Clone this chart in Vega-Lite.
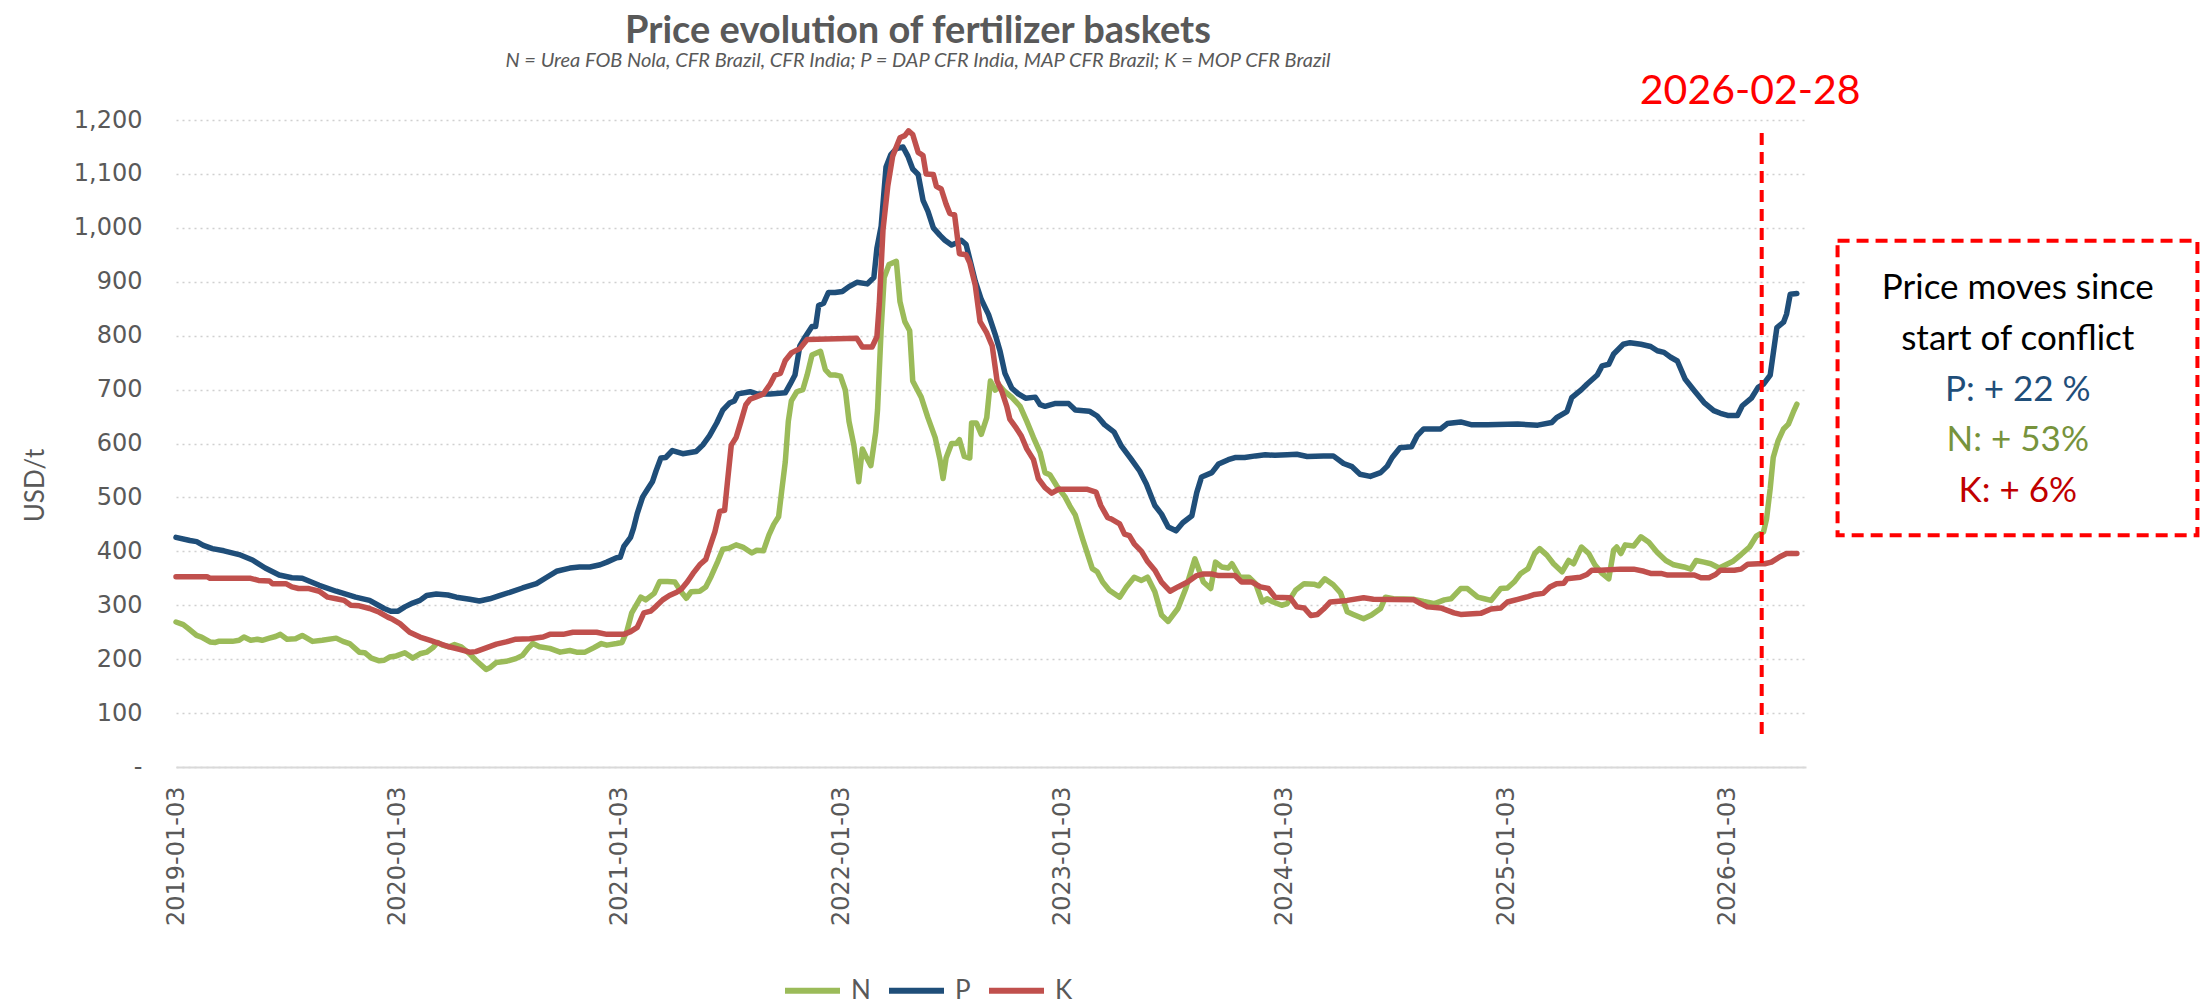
{
  "$schema": "https://vega.github.io/schema/vega-lite/v6.json",
  "width": 1630,
  "height": 647,
  "autosize": {"type": "none"},
  "padding": {"left": 176, "top": 120, "right": 402, "bottom": 238},
  "background": "white",
  "config": {"view": {"stroke": null}, "font": "Lato"},
  "title": {
    "text": "Price evolution of fertilizer baskets",
    "subtitle": "N = Urea FOB Nola, CFR Brazil, CFR India; P = DAP CFR India, MAP CFR Brazil; K = MOP CFR Brazil",
    "anchor": "middle",
    "frame": "group",
    "dx": -73,
    "offset": 0,
    "font": "Lato",
    "fontSize": 38,
    "fontWeight": "bold",
    "color": "#595959",
    "subtitleFont": "Lato",
    "subtitleFontSize": 20,
    "subtitleFontStyle": "italic",
    "subtitleColor": "#595959",
    "subtitlePadding": 0
  },
  "datasets": {
    "series": [
{"s":"N","d":"2019-01-03","v":269},{"s":"N","d":"2019-01-15","v":264},{"s":"N","d":"2019-01-23","v":257},{"s":"N","d":"2019-02-06","v":244},{"s":"N","d":"2019-02-14","v":241},{"s":"N","d":"2019-02-28","v":232},{"s":"N","d":"2019-03-09","v":231},{"s":"N","d":"2019-03-14","v":233},{"s":"N","d":"2019-04-06","v":233},{"s":"N","d":"2019-04-17","v":235},{"s":"N","d":"2019-04-25","v":241},{"s":"N","d":"2019-05-06","v":235},{"s":"N","d":"2019-05-17","v":237},{"s":"N","d":"2019-05-25","v":235},{"s":"N","d":"2019-06-06","v":239},{"s":"N","d":"2019-06-16","v":242},{"s":"N","d":"2019-06-24","v":246},{"s":"N","d":"2019-07-05","v":237},{"s":"N","d":"2019-07-19","v":238},{"s":"N","d":"2019-07-30","v":244},{"s":"N","d":"2019-08-16","v":233},{"s":"N","d":"2019-09-01","v":235},{"s":"N","d":"2019-09-24","v":239},{"s":"N","d":"2019-10-05","v":233},{"s":"N","d":"2019-10-16","v":229},{"s":"N","d":"2019-11-01","v":213},{"s":"N","d":"2019-11-10","v":212},{"s":"N","d":"2019-11-21","v":202},{"s":"N","d":"2019-12-04","v":197},{"s":"N","d":"2019-12-12","v":198},{"s":"N","d":"2019-12-21","v":204},{"s":"N","d":"2020-01-01","v":206},{"s":"N","d":"2020-01-15","v":212},{"s":"N","d":"2020-01-28","v":202},{"s":"N","d":"2020-02-09","v":210},{"s":"N","d":"2020-02-20","v":213},{"s":"N","d":"2020-03-01","v":221},{"s":"N","d":"2020-03-09","v":231},{"s":"N","d":"2020-03-17","v":226},{"s":"N","d":"2020-03-28","v":223},{"s":"N","d":"2020-04-06","v":227},{"s":"N","d":"2020-04-17","v":223},{"s":"N","d":"2020-05-01","v":210},{"s":"N","d":"2020-05-11","v":198},{"s":"N","d":"2020-05-28","v":181},{"s":"N","d":"2020-06-03","v":184},{"s":"N","d":"2020-06-14","v":194},{"s":"N","d":"2020-06-30","v":196},{"s":"N","d":"2020-07-16","v":201},{"s":"N","d":"2020-07-27","v":207},{"s":"N","d":"2020-08-05","v":220},{"s":"N","d":"2020-08-13","v":229},{"s":"N","d":"2020-08-24","v":223},{"s":"N","d":"2020-09-10","v":220},{"s":"N","d":"2020-09-27","v":213},{"s":"N","d":"2020-10-13","v":216},{"s":"N","d":"2020-10-24","v":213},{"s":"N","d":"2020-11-07","v":213},{"s":"N","d":"2020-11-21","v":221},{"s":"N","d":"2020-12-04","v":229},{"s":"N","d":"2020-12-13","v":226},{"s":"N","d":"2020-12-29","v":229},{"s":"N","d":"2021-01-07","v":231},{"s":"N","d":"2021-01-15","v":252},{"s":"N","d":"2021-01-23","v":286},{"s":"N","d":"2021-02-07","v":315},{"s":"N","d":"2021-02-15","v":310},{"s":"N","d":"2021-03-01","v":322},{"s":"N","d":"2021-03-10","v":344},{"s":"N","d":"2021-03-23","v":344},{"s":"N","d":"2021-04-04","v":343},{"s":"N","d":"2021-04-15","v":324},{"s":"N","d":"2021-04-23","v":313},{"s":"N","d":"2021-05-01","v":325},{"s":"N","d":"2021-05-15","v":326},{"s":"N","d":"2021-05-25","v":334},{"s":"N","d":"2021-06-03","v":354},{"s":"N","d":"2021-06-14","v":382},{"s":"N","d":"2021-06-22","v":404},{"s":"N","d":"2021-07-03","v":406},{"s":"N","d":"2021-07-14","v":412},{"s":"N","d":"2021-07-25","v":408},{"s":"N","d":"2021-08-09","v":397},{"s":"N","d":"2021-08-17","v":402},{"s":"N","d":"2021-08-28","v":401},{"s":"N","d":"2021-09-06","v":430},{"s":"N","d":"2021-09-14","v":450},{"s":"N","d":"2021-09-22","v":464},{"s":"N","d":"2021-09-27","v":511},{"s":"N","d":"2021-10-03","v":566},{"s":"N","d":"2021-10-08","v":641},{"s":"N","d":"2021-10-13","v":679},{"s":"N","d":"2021-10-22","v":696},{"s":"N","d":"2021-11-01","v":700},{"s":"N","d":"2021-11-08","v":727},{"s":"N","d":"2021-11-16","v":764},{"s":"N","d":"2021-11-30","v":771},{"s":"N","d":"2021-12-08","v":737},{"s":"N","d":"2021-12-16","v":727},{"s":"N","d":"2021-12-24","v":727},{"s":"N","d":"2022-01-02","v":725},{"s":"N","d":"2022-01-10","v":699},{"s":"N","d":"2022-01-16","v":641},{"s":"N","d":"2022-01-24","v":597},{"s":"N","d":"2022-02-01","v":529},{"s":"N","d":"2022-02-07","v":590},{"s":"N","d":"2022-02-13","v":576},{"s":"N","d":"2022-02-21","v":559},{"s":"N","d":"2022-03-01","v":621},{"s":"N","d":"2022-03-04","v":662},{"s":"N","d":"2022-03-10","v":812},{"s":"N","d":"2022-03-15","v":908},{"s":"N","d":"2022-03-23","v":932},{"s":"N","d":"2022-04-04","v":938},{"s":"N","d":"2022-04-10","v":863},{"s":"N","d":"2022-04-18","v":826},{"s":"N","d":"2022-04-26","v":809},{"s":"N","d":"2022-05-01","v":716},{"s":"N","d":"2022-05-07","v":703},{"s":"N","d":"2022-05-15","v":686},{"s":"N","d":"2022-05-26","v":648},{"s":"N","d":"2022-06-07","v":611},{"s":"N","d":"2022-06-15","v":570},{"s":"N","d":"2022-06-20","v":535},{"s":"N","d":"2022-06-25","v":573},{"s":"N","d":"2022-07-04","v":600},{"s":"N","d":"2022-07-12","v":600},{"s":"N","d":"2022-07-17","v":607},{"s":"N","d":"2022-07-25","v":576},{"s":"N","d":"2022-08-03","v":573},{"s":"N","d":"2022-08-06","v":638},{"s":"N","d":"2022-08-14","v":638},{"s":"N","d":"2022-08-22","v":617},{"s":"N","d":"2022-08-31","v":648},{"s":"N","d":"2022-09-06","v":716},{"s":"N","d":"2022-09-14","v":699},{"s":"N","d":"2022-09-22","v":706},{"s":"N","d":"2022-09-30","v":696},{"s":"N","d":"2022-10-11","v":686},{"s":"N","d":"2022-10-25","v":669},{"s":"N","d":"2022-11-05","v":641},{"s":"N","d":"2022-11-16","v":611},{"s":"N","d":"2022-11-27","v":583},{"s":"N","d":"2022-12-05","v":546},{"s":"N","d":"2022-12-13","v":542},{"s":"N","d":"2022-12-24","v":522},{"s":"N","d":"2023-01-07","v":501},{"s":"N","d":"2023-01-15","v":484},{"s":"N","d":"2023-01-24","v":467},{"s":"N","d":"2023-02-05","v":423},{"s":"N","d":"2023-02-21","v":368},{"s":"N","d":"2023-03-01","v":362},{"s":"N","d":"2023-03-10","v":343},{"s":"N","d":"2023-03-21","v":328},{"s":"N","d":"2023-04-07","v":315},{"s":"N","d":"2023-04-18","v":334},{"s":"N","d":"2023-05-01","v":352},{"s":"N","d":"2023-05-13","v":346},{"s":"N","d":"2023-05-23","v":352},{"s":"N","d":"2023-06-04","v":325},{"s":"N","d":"2023-06-15","v":282},{"s":"N","d":"2023-06-26","v":270},{"s":"N","d":"2023-07-12","v":294},{"s":"N","d":"2023-07-25","v":331},{"s":"N","d":"2023-08-09","v":386},{"s":"N","d":"2023-08-23","v":343},{"s":"N","d":"2023-09-04","v":331},{"s":"N","d":"2023-09-12","v":380},{"s":"N","d":"2023-09-22","v":371},{"s":"N","d":"2023-10-03","v":369},{"s":"N","d":"2023-10-09","v":377},{"s":"N","d":"2023-10-22","v":352},{"s":"N","d":"2023-11-06","v":352},{"s":"N","d":"2023-11-17","v":340},{"s":"N","d":"2023-11-28","v":306},{"s":"N","d":"2023-12-06","v":312},{"s":"N","d":"2023-12-16","v":306},{"s":"N","d":"2023-12-30","v":300},{"s":"N","d":"2024-01-08","v":303},{"s":"N","d":"2024-01-22","v":328},{"s":"N","d":"2024-02-05","v":340},{"s":"N","d":"2024-02-21","v":339},{"s":"N","d":"2024-02-29","v":336},{"s":"N","d":"2024-03-10","v":349},{"s":"N","d":"2024-03-24","v":338},{"s":"N","d":"2024-04-05","v":323},{"s":"N","d":"2024-04-16","v":288},{"s":"N","d":"2024-04-26","v":283},{"s":"N","d":"2024-05-13","v":275},{"s":"N","d":"2024-05-26","v":282},{"s":"N","d":"2024-06-10","v":294},{"s":"N","d":"2024-06-18","v":315},{"s":"N","d":"2024-07-01","v":312},{"s":"N","d":"2024-08-04","v":311},{"s":"N","d":"2024-08-20","v":307},{"s":"N","d":"2024-09-07","v":303},{"s":"N","d":"2024-09-23","v":310},{"s":"N","d":"2024-10-04","v":312},{"s":"N","d":"2024-10-20","v":331},{"s":"N","d":"2024-10-31","v":331},{"s":"N","d":"2024-11-17","v":315},{"s":"N","d":"2024-11-28","v":312},{"s":"N","d":"2024-12-09","v":309},{"s":"N","d":"2024-12-25","v":331},{"s":"N","d":"2025-01-05","v":332},{"s":"N","d":"2025-01-16","v":343},{"s":"N","d":"2025-01-27","v":359},{"s":"N","d":"2025-02-08","v":368},{"s":"N","d":"2025-02-19","v":396},{"s":"N","d":"2025-02-27","v":405},{"s":"N","d":"2025-03-11","v":393},{"s":"N","d":"2025-03-22","v":377},{"s":"N","d":"2025-04-05","v":362},{"s":"N","d":"2025-04-16","v":383},{"s":"N","d":"2025-04-24","v":377},{"s":"N","d":"2025-05-07","v":408},{"s":"N","d":"2025-05-19","v":396},{"s":"N","d":"2025-05-29","v":375},{"s":"N","d":"2025-06-10","v":359},{"s":"N","d":"2025-06-21","v":349},{"s":"N","d":"2025-06-29","v":402},{"s":"N","d":"2025-07-04","v":408},{"s":"N","d":"2025-07-11","v":396},{"s":"N","d":"2025-07-18","v":412},{"s":"N","d":"2025-08-01","v":410},{"s":"N","d":"2025-08-13","v":427},{"s":"N","d":"2025-08-26","v":417},{"s":"N","d":"2025-09-09","v":398},{"s":"N","d":"2025-09-23","v":383},{"s":"N","d":"2025-10-06","v":375},{"s":"N","d":"2025-10-23","v":371},{"s":"N","d":"2025-11-03","v":367},{"s":"N","d":"2025-11-12","v":383},{"s":"N","d":"2025-11-25","v":380},{"s":"N","d":"2025-12-06","v":377},{"s":"N","d":"2025-12-20","v":369},{"s":"N","d":"2025-12-31","v":375},{"s":"N","d":"2026-01-11","v":381},{"s":"N","d":"2026-01-25","v":394},{"s":"N","d":"2026-02-08","v":408},{"s":"N","d":"2026-02-19","v":428},{"s":"N","d":"2026-03-03","v":436},{"s":"N","d":"2026-03-08","v":460},{"s":"N","d":"2026-03-14","v":516},{"s":"N","d":"2026-03-19","v":574},{"s":"N","d":"2026-03-27","v":605},{"s":"N","d":"2026-04-05","v":627},{"s":"N","d":"2026-04-13","v":636},{"s":"N","d":"2026-04-21","v":658},{"s":"N","d":"2026-04-27","v":673},
{"s":"P","d":"2019-01-03","v":426},{"s":"P","d":"2019-01-26","v":420},{"s":"P","d":"2019-02-06","v":418},{"s":"P","d":"2019-02-17","v":411},{"s":"P","d":"2019-03-04","v":405},{"s":"P","d":"2019-03-23","v":401},{"s":"P","d":"2019-04-17","v":394},{"s":"P","d":"2019-05-09","v":384},{"s":"P","d":"2019-05-30","v":369},{"s":"P","d":"2019-06-22","v":356},{"s":"P","d":"2019-07-13","v":351},{"s":"P","d":"2019-07-30","v":350},{"s":"P","d":"2019-08-27","v":337},{"s":"P","d":"2019-09-24","v":326},{"s":"P","d":"2019-10-26","v":315},{"s":"P","d":"2019-11-18","v":309},{"s":"P","d":"2019-12-12","v":294},{"s":"P","d":"2019-12-23","v":289},{"s":"P","d":"2020-01-04","v":289},{"s":"P","d":"2020-01-15","v":297},{"s":"P","d":"2020-01-28","v":304},{"s":"P","d":"2020-02-09","v":309},{"s":"P","d":"2020-02-20","v":318},{"s":"P","d":"2020-03-07","v":321},{"s":"P","d":"2020-03-26","v":319},{"s":"P","d":"2020-04-09","v":315},{"s":"P","d":"2020-05-01","v":311},{"s":"P","d":"2020-05-17","v":308},{"s":"P","d":"2020-06-03","v":312},{"s":"P","d":"2020-06-19","v":318},{"s":"P","d":"2020-07-06","v":324},{"s":"P","d":"2020-07-27","v":332},{"s":"P","d":"2020-08-19","v":340},{"s":"P","d":"2020-09-05","v":352},{"s":"P","d":"2020-09-21","v":363},{"s":"P","d":"2020-10-13","v":369},{"s":"P","d":"2020-10-29","v":371},{"s":"P","d":"2020-11-15","v":371},{"s":"P","d":"2020-12-02","v":375},{"s":"P","d":"2020-12-13","v":380},{"s":"P","d":"2020-12-29","v":388},{"s":"P","d":"2021-01-04","v":389},{"s":"P","d":"2021-01-10","v":409},{"s":"P","d":"2021-01-21","v":426},{"s":"P","d":"2021-01-26","v":443},{"s":"P","d":"2021-02-01","v":470},{"s":"P","d":"2021-02-10","v":501},{"s":"P","d":"2021-02-18","v":515},{"s":"P","d":"2021-02-26","v":529},{"s":"P","d":"2021-03-04","v":549},{"s":"P","d":"2021-03-12","v":573},{"s":"P","d":"2021-03-20","v":574},{"s":"P","d":"2021-03-31","v":587},{"s":"P","d":"2021-04-17","v":581},{"s":"P","d":"2021-05-09","v":585},{"s":"P","d":"2021-05-20","v":597},{"s":"P","d":"2021-05-31","v":614},{"s":"P","d":"2021-06-12","v":638},{"s":"P","d":"2021-06-22","v":662},{"s":"P","d":"2021-07-03","v":675},{"s":"P","d":"2021-07-11","v":679},{"s":"P","d":"2021-07-17","v":692},{"s":"P","d":"2021-08-06","v":696},{"s":"P","d":"2021-08-17","v":692},{"s":"P","d":"2021-09-08","v":692},{"s":"P","d":"2021-10-03","v":694},{"s":"P","d":"2021-10-11","v":710},{"s":"P","d":"2021-10-19","v":727},{"s":"P","d":"2021-10-27","v":781},{"s":"P","d":"2021-11-05","v":798},{"s":"P","d":"2021-11-16","v":817},{"s":"P","d":"2021-11-22","v":817},{"s":"P","d":"2021-11-27","v":856},{"s":"P","d":"2021-12-05","v":860},{"s":"P","d":"2021-12-13","v":880},{"s":"P","d":"2021-12-24","v":880},{"s":"P","d":"2022-01-05","v":882},{"s":"P","d":"2022-01-16","v":891},{"s":"P","d":"2022-01-29","v":899},{"s":"P","d":"2022-02-15","v":896},{"s":"P","d":"2022-02-26","v":908},{"s":"P","d":"2022-03-03","v":962},{"s":"P","d":"2022-03-10","v":1003},{"s":"P","d":"2022-03-18","v":1113},{"s":"P","d":"2022-03-26","v":1136},{"s":"P","d":"2022-04-04","v":1147},{"s":"P","d":"2022-04-15","v":1150},{"s":"P","d":"2022-04-23","v":1133},{"s":"P","d":"2022-05-01","v":1109},{"s":"P","d":"2022-05-10","v":1099},{"s":"P","d":"2022-05-18","v":1051},{"s":"P","d":"2022-05-26","v":1031},{"s":"P","d":"2022-06-04","v":1000},{"s":"P","d":"2022-06-15","v":986},{"s":"P","d":"2022-06-23","v":977},{"s":"P","d":"2022-07-04","v":968},{"s":"P","d":"2022-07-12","v":972},{"s":"P","d":"2022-07-20","v":977},{"s":"P","d":"2022-07-28","v":969},{"s":"P","d":"2022-08-03","v":942},{"s":"P","d":"2022-08-12","v":901},{"s":"P","d":"2022-08-22","v":867},{"s":"P","d":"2022-09-03","v":839},{"s":"P","d":"2022-09-14","v":802},{"s":"P","d":"2022-09-22","v":771},{"s":"P","d":"2022-09-30","v":730},{"s":"P","d":"2022-10-11","v":703},{"s":"P","d":"2022-10-22","v":692},{"s":"P","d":"2022-11-03","v":684},{"s":"P","d":"2022-11-19","v":686},{"s":"P","d":"2022-11-27","v":672},{"s":"P","d":"2022-12-05","v":669},{"s":"P","d":"2022-12-21","v":674},{"s":"P","d":"2023-01-13","v":674},{"s":"P","d":"2023-01-24","v":662},{"s":"P","d":"2023-02-16","v":660},{"s":"P","d":"2023-03-01","v":651},{"s":"P","d":"2023-03-13","v":635},{"s":"P","d":"2023-03-29","v":621},{"s":"P","d":"2023-04-10","v":595},{"s":"P","d":"2023-04-26","v":571},{"s":"P","d":"2023-05-10","v":549},{"s":"P","d":"2023-05-21","v":525},{"s":"P","d":"2023-06-04","v":485},{"s":"P","d":"2023-06-15","v":469},{"s":"P","d":"2023-06-26","v":445},{"s":"P","d":"2023-07-09","v":438},{"s":"P","d":"2023-07-20","v":453},{"s":"P","d":"2023-08-04","v":466},{"s":"P","d":"2023-08-12","v":509},{"s":"P","d":"2023-08-20","v":538},{"s":"P","d":"2023-09-06","v":546},{"s":"P","d":"2023-09-17","v":562},{"s":"P","d":"2023-10-03","v":570},{"s":"P","d":"2023-10-14","v":574},{"s":"P","d":"2023-10-30","v":574},{"s":"P","d":"2023-11-17","v":577},{"s":"P","d":"2023-12-03","v":579},{"s":"P","d":"2023-12-19","v":578},{"s":"P","d":"2024-01-08","v":579},{"s":"P","d":"2024-01-24","v":580},{"s":"P","d":"2024-02-10","v":576},{"s":"P","d":"2024-03-08","v":577},{"s":"P","d":"2024-03-24","v":577},{"s":"P","d":"2024-04-10","v":563},{"s":"P","d":"2024-04-24","v":557},{"s":"P","d":"2024-05-07","v":543},{"s":"P","d":"2024-05-24","v":539},{"s":"P","d":"2024-06-10","v":546},{"s":"P","d":"2024-06-21","v":558},{"s":"P","d":"2024-06-29","v":574},{"s":"P","d":"2024-07-12","v":592},{"s":"P","d":"2024-07-31","v":594},{"s":"P","d":"2024-08-09","v":614},{"s":"P","d":"2024-08-20","v":627},{"s":"P","d":"2024-09-17","v":627},{"s":"P","d":"2024-09-28","v":637},{"s":"P","d":"2024-10-20","v":640},{"s":"P","d":"2024-11-06","v":635},{"s":"P","d":"2024-12-03","v":635},{"s":"P","d":"2025-01-22","v":636},{"s":"P","d":"2025-02-24","v":634},{"s":"P","d":"2025-03-19","v":639},{"s":"P","d":"2025-03-27","v":648},{"s":"P","d":"2025-04-13","v":659},{"s":"P","d":"2025-04-21","v":685},{"s":"P","d":"2025-05-07","v":700},{"s":"P","d":"2025-05-16","v":710},{"s":"P","d":"2025-06-02","v":727},{"s":"P","d":"2025-06-10","v":744},{"s":"P","d":"2025-06-21","v":747},{"s":"P","d":"2025-06-29","v":766},{"s":"P","d":"2025-07-15","v":784},{"s":"P","d":"2025-07-26","v":787},{"s":"P","d":"2025-08-13","v":784},{"s":"P","d":"2025-08-29","v":780},{"s":"P","d":"2025-09-09","v":772},{"s":"P","d":"2025-09-20","v":769},{"s":"P","d":"2025-10-01","v":760},{"s":"P","d":"2025-10-12","v":753},{"s":"P","d":"2025-10-25","v":719},{"s":"P","d":"2025-11-09","v":698},{"s":"P","d":"2025-11-25","v":676},{"s":"P","d":"2025-12-11","v":661},{"s":"P","d":"2025-12-22","v":656},{"s":"P","d":"2026-01-03","v":652},{"s":"P","d":"2026-01-19","v":652},{"s":"P","d":"2026-01-27","v":670},{"s":"P","d":"2026-02-11","v":684},{"s":"P","d":"2026-02-22","v":704},{"s":"P","d":"2026-03-03","v":710},{"s":"P","d":"2026-03-14","v":727},{"s":"P","d":"2026-03-25","v":815},{"s":"P","d":"2026-04-05","v":825},{"s":"P","d":"2026-04-10","v":840},{"s":"P","d":"2026-04-16","v":877},{"s":"P","d":"2026-04-27","v":878},
{"s":"K","d":"2019-01-03","v":353},{"s":"K","d":"2019-02-23","v":353},{"s":"K","d":"2019-02-28","v":350},{"s":"K","d":"2019-05-06","v":350},{"s":"K","d":"2019-05-19","v":346},{"s":"K","d":"2019-06-06","v":345},{"s":"K","d":"2019-06-11","v":340},{"s":"K","d":"2019-07-03","v":340},{"s":"K","d":"2019-07-13","v":334},{"s":"K","d":"2019-07-24","v":331},{"s":"K","d":"2019-08-10","v":331},{"s":"K","d":"2019-08-27","v":326},{"s":"K","d":"2019-09-10","v":315},{"s":"K","d":"2019-09-24","v":312},{"s":"K","d":"2019-10-07","v":309},{"s":"K","d":"2019-10-18","v":300},{"s":"K","d":"2019-11-01","v":299},{"s":"K","d":"2019-11-18","v":294},{"s":"K","d":"2019-12-04","v":287},{"s":"K","d":"2019-12-18","v":278},{"s":"K","d":"2019-12-26","v":274},{"s":"K","d":"2020-01-07","v":266},{"s":"K","d":"2020-01-23","v":250},{"s":"K","d":"2020-02-09","v":241},{"s":"K","d":"2020-02-26","v":235},{"s":"K","d":"2020-03-12","v":229},{"s":"K","d":"2020-03-28","v":223},{"s":"K","d":"2020-04-14","v":218},{"s":"K","d":"2020-05-01","v":213},{"s":"K","d":"2020-05-11","v":214},{"s":"K","d":"2020-05-28","v":221},{"s":"K","d":"2020-06-14","v":228},{"s":"K","d":"2020-06-30","v":232},{"s":"K","d":"2020-07-16","v":237},{"s":"K","d":"2020-08-08","v":238},{"s":"K","d":"2020-08-30","v":241},{"s":"K","d":"2020-09-10","v":246},{"s":"K","d":"2020-10-02","v":246},{"s":"K","d":"2020-10-18","v":250},{"s":"K","d":"2020-11-26","v":250},{"s":"K","d":"2020-12-13","v":246},{"s":"K","d":"2021-01-10","v":246},{"s":"K","d":"2021-01-21","v":251},{"s":"K","d":"2021-02-01","v":259},{"s":"K","d":"2021-02-12","v":286},{"s":"K","d":"2021-02-23","v":289},{"s":"K","d":"2021-03-04","v":298},{"s":"K","d":"2021-03-15","v":310},{"s":"K","d":"2021-03-26","v":318},{"s":"K","d":"2021-04-07","v":324},{"s":"K","d":"2021-04-15","v":330},{"s":"K","d":"2021-04-25","v":344},{"s":"K","d":"2021-05-04","v":359},{"s":"K","d":"2021-05-15","v":375},{"s":"K","d":"2021-05-25","v":385},{"s":"K","d":"2021-05-31","v":406},{"s":"K","d":"2021-06-09","v":436},{"s":"K","d":"2021-06-17","v":474},{"s":"K","d":"2021-06-25","v":476},{"s":"K","d":"2021-06-30","v":532},{"s":"K","d":"2021-07-06","v":597},{"s":"K","d":"2021-07-14","v":611},{"s":"K","d":"2021-07-22","v":641},{"s":"K","d":"2021-07-30","v":672},{"s":"K","d":"2021-08-06","v":682},{"s":"K","d":"2021-08-17","v":687},{"s":"K","d":"2021-08-28","v":692},{"s":"K","d":"2021-09-08","v":710},{"s":"K","d":"2021-09-16","v":727},{"s":"K","d":"2021-09-25","v":730},{"s":"K","d":"2021-10-03","v":754},{"s":"K","d":"2021-10-13","v":768},{"s":"K","d":"2021-10-27","v":776},{"s":"K","d":"2021-11-08","v":793},{"s":"K","d":"2022-01-29","v":795},{"s":"K","d":"2022-02-07","v":779},{"s":"K","d":"2022-02-23","v":779},{"s":"K","d":"2022-03-03","v":798},{"s":"K","d":"2022-03-07","v":860},{"s":"K","d":"2022-03-13","v":996},{"s":"K","d":"2022-03-21","v":1078},{"s":"K","d":"2022-03-29","v":1133},{"s":"K","d":"2022-04-10","v":1167},{"s":"K","d":"2022-04-18","v":1171},{"s":"K","d":"2022-04-24","v":1180},{"s":"K","d":"2022-05-01","v":1173},{"s":"K","d":"2022-05-10","v":1140},{"s":"K","d":"2022-05-18","v":1134},{"s":"K","d":"2022-05-23","v":1100},{"s":"K","d":"2022-06-04","v":1099},{"s":"K","d":"2022-06-09","v":1077},{"s":"K","d":"2022-06-17","v":1072},{"s":"K","d":"2022-06-25","v":1044},{"s":"K","d":"2022-07-01","v":1027},{"s":"K","d":"2022-07-09","v":1024},{"s":"K","d":"2022-07-17","v":952},{"s":"K","d":"2022-07-28","v":950},{"s":"K","d":"2022-08-03","v":935},{"s":"K","d":"2022-08-12","v":894},{"s":"K","d":"2022-08-20","v":826},{"s":"K","d":"2022-08-31","v":805},{"s":"K","d":"2022-09-09","v":781},{"s":"K","d":"2022-09-17","v":716},{"s":"K","d":"2022-09-25","v":696},{"s":"K","d":"2022-10-03","v":669},{"s":"K","d":"2022-10-08","v":645},{"s":"K","d":"2022-10-19","v":628},{"s":"K","d":"2022-10-27","v":614},{"s":"K","d":"2022-11-05","v":590},{"s":"K","d":"2022-11-16","v":570},{"s":"K","d":"2022-11-24","v":535},{"s":"K","d":"2022-12-05","v":518},{"s":"K","d":"2022-12-16","v":508},{"s":"K","d":"2022-12-27","v":515},{"s":"K","d":"2023-02-13","v":515},{"s":"K","d":"2023-02-27","v":510},{"s":"K","d":"2023-03-07","v":485},{"s":"K","d":"2023-03-18","v":463},{"s":"K","d":"2023-03-26","v":459},{"s":"K","d":"2023-04-07","v":451},{"s":"K","d":"2023-04-15","v":432},{"s":"K","d":"2023-04-23","v":429},{"s":"K","d":"2023-05-01","v":414},{"s":"K","d":"2023-05-13","v":400},{"s":"K","d":"2023-05-23","v":381},{"s":"K","d":"2023-06-04","v":365},{"s":"K","d":"2023-06-15","v":343},{"s":"K","d":"2023-06-29","v":326},{"s":"K","d":"2023-07-12","v":334},{"s":"K","d":"2023-07-28","v":343},{"s":"K","d":"2023-08-12","v":355},{"s":"K","d":"2023-08-23","v":358},{"s":"K","d":"2023-09-06","v":358},{"s":"K","d":"2023-09-17","v":355},{"s":"K","d":"2023-10-14","v":355},{"s":"K","d":"2023-10-25","v":343},{"s":"K","d":"2023-11-11","v":343},{"s":"K","d":"2023-11-25","v":334},{"s":"K","d":"2023-12-08","v":331},{"s":"K","d":"2023-12-19","v":315},{"s":"K","d":"2024-01-13","v":314},{"s":"K","d":"2024-01-24","v":297},{"s":"K","d":"2024-02-05","v":295},{"s":"K","d":"2024-02-16","v":281},{"s":"K","d":"2024-02-27","v":283},{"s":"K","d":"2024-03-08","v":293},{"s":"K","d":"2024-03-19","v":306},{"s":"K","d":"2024-04-16","v":309},{"s":"K","d":"2024-05-13","v":314},{"s":"K","d":"2024-05-29","v":311},{"s":"K","d":"2024-08-04","v":310},{"s":"K","d":"2024-08-15","v":303},{"s":"K","d":"2024-08-26","v":297},{"s":"K","d":"2024-09-17","v":295},{"s":"K","d":"2024-10-09","v":286},{"s":"K","d":"2024-10-20","v":283},{"s":"K","d":"2024-11-22","v":285},{"s":"K","d":"2024-12-09","v":293},{"s":"K","d":"2024-12-25","v":295},{"s":"K","d":"2025-01-05","v":306},{"s":"K","d":"2025-01-22","v":311},{"s":"K","d":"2025-02-08","v":316},{"s":"K","d":"2025-02-19","v":320},{"s":"K","d":"2025-03-05","v":322},{"s":"K","d":"2025-03-16","v":334},{"s":"K","d":"2025-03-27","v":340},{"s":"K","d":"2025-04-08","v":341},{"s":"K","d":"2025-04-13","v":349},{"s":"K","d":"2025-05-05","v":352},{"s":"K","d":"2025-05-16","v":357},{"s":"K","d":"2025-05-24","v":365},{"s":"K","d":"2025-06-07","v":365},{"s":"K","d":"2025-07-10","v":367},{"s":"K","d":"2025-08-01","v":367},{"s":"K","d":"2025-08-18","v":363},{"s":"K","d":"2025-08-29","v":359},{"s":"K","d":"2025-09-15","v":359},{"s":"K","d":"2025-09-26","v":356},{"s":"K","d":"2025-11-09","v":356},{"s":"K","d":"2025-11-20","v":351},{"s":"K","d":"2025-12-03","v":351},{"s":"K","d":"2025-12-14","v":357},{"s":"K","d":"2025-12-22","v":365},{"s":"K","d":"2026-01-14","v":365},{"s":"K","d":"2026-01-25","v":367},{"s":"K","d":"2026-02-05","v":376},{"s":"K","d":"2026-02-22","v":377},{"s":"K","d":"2026-03-05","v":377},{"s":"K","d":"2026-03-16","v":380},{"s":"K","d":"2026-03-30","v":390},{"s":"K","d":"2026-04-10","v":396},{"s":"K","d":"2026-04-27","v":396}
    ]
  },
  "encoding": {
    "x": {
      "field": "d",
      "type": "temporal",
      "scale": {"type": "utc", "domain": [{"year": 2019, "month": 1, "date": 3, "utc": true}, {"year": 2026, "month": 5, "date": 12, "utc": true}]},
      "axis": {
        "title": null,
        "values": [
          {"year": 2019, "month": 1, "date": 3, "utc": true},
          {"year": 2020, "month": 1, "date": 3, "utc": true},
          {"year": 2021, "month": 1, "date": 3, "utc": true},
          {"year": 2022, "month": 1, "date": 3, "utc": true},
          {"year": 2023, "month": 1, "date": 3, "utc": true},
          {"year": 2024, "month": 1, "date": 3, "utc": true},
          {"year": 2025, "month": 1, "date": 3, "utc": true},
          {"year": 2026, "month": 1, "date": 3, "utc": true}
        ],
        "format": "%Y-%m-%d",
        "labelAngle": -90,
        "labelFont": "DejaVu Sans",
        "labelFontSize": 24,
        "labelColor": "#595959",
        "labelPadding": 19,
        "labelOverlap": false,
        "ticks": false,
        "grid": false,
        "domainColor": "#D9D9D9",
        "domainWidth": 2
      }
    },
    "y": {
      "field": "v",
      "type": "quantitative",
      "scale": {"domain": [0, 1200], "nice": false, "zero": true},
      "axis": {
        "title": "USD/t",
        "titleFont": "Lato",
        "titleFontSize": 26,
        "titleFontWeight": "normal",
        "titleColor": "#595959",
        "titleX": -141,
        "titleY": 365,
        "titleBaseline": "middle",
        "titleAngle": -90,
        "values": [0, 100, 200, 300, 400, 500, 600, 700, 800, 900, 1000, 1100, 1200],
        "labelExpr": "datum.value === 0 ? '-\u00a0\u00a0\u00a0\u00a0\u00a0' : format(datum.value, ',')",
        "labelFont": "DejaVu Sans",
        "labelFontSize": 24,
        "labelColor": "#595959",
        "labelPadding": 34,
        "ticks": false,
        "domain": false,
        "grid": true,
        "gridColor": "#D0D0D0",
        "gridDash": [2, 4],
        "gridWidth": 1.5
      }
    }
  },
  "layer": [
    {
      "data": {"name": "series"},
      "mark": {"type": "line", "strokeWidth": 5.5, "strokeJoin": "round", "strokeCap": "round"},
      "encoding": {
        "color": {
          "field": "s",
          "type": "nominal",
          "scale": {"domain": ["N", "P", "K"], "range": ["#9BBB59", "#1F4E79", "#C0504D"]},
          "legend": {
            "orient": "none",
            "legendX": 606,
            "legendY": 840,
            "direction": "horizontal",
            "title": null,
            "symbolType": "stroke",
            "symbolSize": 3025,
            "symbolStrokeWidth": 6,
            "labelFont": "Lato",
            "labelFontSize": 26,
            "labelColor": "#595959",
            "labelOffset": 8,
            "columnPadding": 6
          }
        }
      }
    },
    {
      "data": {"values": [{"d": "2026-02-28", "v": 61, "v2": 1180}]},
      "mark": {"type": "rule", "color": "#FF0000", "strokeWidth": 4, "strokeDash": [12, 7]},
      "encoding": {"y2": {"field": "v2"}}
    },
    {
      "data": {"values": [{"d": "2026-02-09", "v": 1252, "t": "2026-02-28"}]},
      "mark": {"type": "text", "color": "#FF0000", "font": "Lato", "fontSize": 41, "align": "center", "baseline": "middle"},
      "encoding": {"text": {"field": "t"}}
    },
    {
      "data": {"values": [{"d": "2026-07-03", "d2": "2028-02-16", "v": 976, "v2": 430}]},
      "mark": {"type": "rect", "fill": null, "fillOpacity": 0, "stroke": "#FF0000", "strokeWidth": 4, "strokeDash": [12, 7]},
      "encoding": {"x2": {"field": "d2"}, "y2": {"field": "v2"}}
    },
    {
      "data": {"values": [{"d": "2027-04-26", "v": 889, "t": "Price moves since"}, {"d": "2027-04-26", "v": 794, "t": "start of conflict"}]},
      "mark": {"type": "text", "color": "#000000", "font": "Lato", "fontSize": 35, "align": "center", "baseline": "middle"},
      "encoding": {"text": {"field": "t"}}
    },
    {
      "data": {"values": [{"d": "2027-04-26", "v": 700, "t": "P: + 22 %"}]},
      "mark": {"type": "text", "color": "#1F4E79", "font": "Lato", "fontSize": 35, "align": "center", "baseline": "middle"},
      "encoding": {"text": {"field": "t"}}
    },
    {
      "data": {"values": [{"d": "2027-04-26", "v": 606, "t": "N: + 53%"}]},
      "mark": {"type": "text", "color": "#77933C", "font": "Lato", "fontSize": 35, "align": "center", "baseline": "middle"},
      "encoding": {"text": {"field": "t"}}
    },
    {
      "data": {"values": [{"d": "2027-04-26", "v": 511, "t": "K: + 6%"}]},
      "mark": {"type": "text", "color": "#C00000", "font": "Lato", "fontSize": 35, "align": "center", "baseline": "middle"},
      "encoding": {"text": {"field": "t"}}
    }
  ]
}
